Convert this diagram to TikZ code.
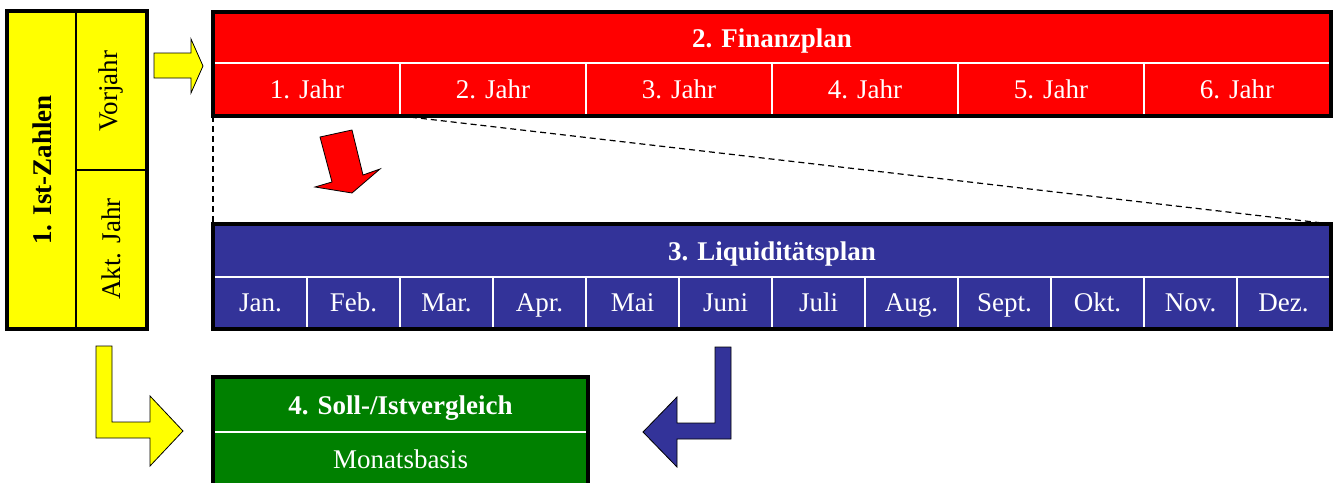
\documentclass[tikz,border=0pt]{standalone}
\usepackage{fontspec}
\setmainfont{Liberation Serif}
\usepackage{xcolor}
\usepackage{tikz}
\definecolor{lpblue}{HTML}{333399}
\definecolor{svgreen}{HTML}{008000}
\definecolor{istyellow}{HTML}{FFFF00}

\begin{document}
\begin{tikzpicture}[x=1pt,y=-1pt,
  c/.style={draw=white,line width=2pt,inner sep=0pt,text=white,text height=20pt,text depth=2pt,font=\fontsize{27}{30}\selectfont},
  hd/.style={c,font=\fontsize{27}{30}\selectfont\bfseries},
  yc/.style={draw=black,line width=2pt,fill=istyellow,inner sep=0pt,rotate=90,font=\fontsize{27}{30}\selectfont},
  frame/.style={draw=black,line width=3.5pt},
  dsh/.style={dash pattern=on 6pt off 4pt,line width=1.2pt},
  blk/.style={draw=black,line width=0.8pt,line join=miter}]
 \useasboundingbox (0,0) rectangle (1338,482);
 % 1. Ist-Zahlen
 \node[yc,minimum width=316pt,minimum height=68pt] (ist) at (42,170) {\textbf{1. Ist-Zahlen}};
 \node[yc,minimum width=158pt,minimum height=70pt] (vj) at (111,91) {Vorjahr};
 \node[yc,minimum width=158pt,minimum height=70pt] (akt) at (111,249) {Akt. Jahr};
 \draw[frame] (ist.north east) rectangle (akt.south west);
 % 2. Finanzplan
 \node[hd,fill=red,minimum width=1116pt,minimum height=50pt] (fp) at (772,38) {2. Finanzplan};
 \foreach \i in {1,...,6}
   \node[c,fill=red,minimum width=186pt,minimum height=52pt] (j\i) at (121+186*\i,89) {\i. Jahr};
 % 3. Liquiditaetsplan
 \node[hd,fill=lpblue,minimum width=1116pt,minimum height=52pt] (lp) at (772,251) {3. Liquiditätsplan};
 \foreach \i/\m in {1/Jan.,2/Feb.,3/Mar.,4/Apr.,5/Mai,6/Juni,7/Juli,8/Aug.,9/Sept.,10/Okt.,11/Nov.,12/Dez.}
   \node[c,fill=lpblue,minimum width=93pt,minimum height=51pt] (m\i) at (167.5+93*\i,302.5) {\m};
 \draw[dsh] (j1.south west) -- (lp.north west);
 \draw[dsh] (j1.south east) -- (lp.north east);
 \draw[frame] (fp.north west) rectangle (j6.south east);
 \draw[frame] (lp.north west) rectangle (m12.south east);
 % 4. Soll-/Istvergleich
 \node[hd,fill=svgreen,minimum width=373pt,minimum height=54pt] (sv) at (400.5,405) {4. Soll-/Istvergleich};
 \node[c,fill=svgreen,minimum width=373pt,minimum height=54pt] (mb) at (400.5,459) {Monatsbasis};
 \draw[frame] (sv.north west) rectangle (mb.south east);
 % block arrows
 \draw[blk,fill=istyellow] (154,53) -- (191,53) -- (191,39) -- (203,66) -- (191,93) -- (191,78) -- (154,78) -- cycle;
 \draw[blk,fill=red] (320,137) -- (352,130) -- (363,175) -- (380,169) -- (352,193) -- (315,187) -- (332,182) -- cycle;
 \draw[blk,fill=istyellow] (96,346) -- (112,346) -- (112,422) -- (150,422) -- (150,396) -- (183,431) -- (150,466) -- (150,438) -- (96,438) -- cycle;
 \draw[blk,fill=lpblue] (731,347) -- (715,347) -- (715,423) -- (677,423) -- (677,397) -- (643,432) -- (677,467) -- (677,439) -- (731,439) -- cycle;
\end{tikzpicture}
\end{document}
